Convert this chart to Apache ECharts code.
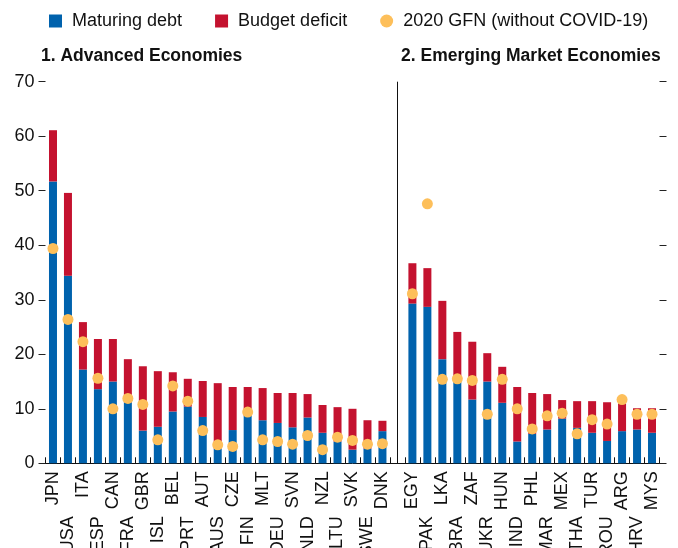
<!DOCTYPE html>
<html>
<head>
<meta charset="utf-8">
<script src="https://cdn.jsdelivr.net/npm/echarts@6/dist/echarts.min.js"></script>
<style>
html,body{margin:0;padding:0;background:#fff;}
#chart{width:678px;height:548px;}
</style>
</head>
<body>
<div id="chart"></div>
<script>
var categories = ['JPN','USA','ITA','ESP','CAN','FRA','GBR','ISL','BEL','PRT','AUT','AUS','CZE','FIN','MLT','DEU','SVN','NLD','NZL','LTU','SVK','SWE','DNK',' ','EGY','PAK','LKA','BRA','ZAF','UKR','HUN','IND','PHL','MAR','MEX','THA','TUR','ROU','ARG','HRV','MYS'];
var maturingDebt = [51.7,34.4,17.2,13.6,15.0,11.2,6.0,6.7,9.5,10.4,8.5,2.7,6.1,8.7,7.9,7.4,6.6,8.4,5.6,4.0,2.5,2.7,5.9,null,29.3,28.7,19.1,14.9,11.7,15.0,11.1,4.0,5.4,6.2,8.2,6.5,5.6,4.1,5.9,6.2,5.6];
var budgetDeficit = [9.4,15.2,8.7,9.2,7.8,7.9,11.8,10.2,7.2,5.1,6.6,12.0,7.9,5.3,5.9,5.5,6.3,4.3,5.1,6.3,7.5,5.2,1.9,null,7.4,7.1,10.7,9.2,10.6,5.2,6.6,10.0,7.5,6.5,3.4,4.9,5.8,7.1,5.1,3.9,4.5];
var gfn2020 = [39.4,26.4,22.3,15.6,10.0,11.9,10.8,4.3,14.2,11.4,6.0,3.4,3.1,9.4,4.3,4.0,3.5,5.1,2.5,4.8,4.2,3.5,3.6,null,31.1,47.6,15.4,15.5,15.2,9.0,15.4,10.0,6.3,8.7,9.2,5.4,8.0,7.2,11.7,9.0,9.0];
var yTicks = [0,10,20,30,40,50,60,70];
var panelTitles = ['1. Advanced Economies','2. Emerging Market Economies'];

var FONT = "'Liberation Sans', Arial, sans-serif";
var BLUE = '#0062AD', RED = '#C4122F', GOLD = '#FDBF5A';

var chart = echarts.init(document.getElementById('chart'), null, {renderer:'canvas'});
var yAxisBase = {
  type:'value', min:yTicks[0], max:yTicks[yTicks.length-1], interval:10,
  axisLine:{show:false},
  axisTick:{show:true, inside:false, length:7, lineStyle:{color:'#222', width:1}},
  splitLine:{show:false}
};
chart.setOption({
  animation:false,
  textStyle:{fontFamily:FONT},
  title:[
    {text:panelTitles[0], left:36, top:42, textStyle:{fontFamily:FONT, fontSize:17.5, fontWeight:'bold', color:'#111'}},
    {text:panelTitles[1], left:396, top:42, textStyle:{fontFamily:FONT, fontSize:17.5, fontWeight:'bold', color:'#111'}}
  ],
  legend:{
    left:44, top:7, itemWidth:13, itemHeight:13, itemGap:33,
    textStyle:{fontFamily:FONT, fontSize:18, color:'#111', padding:[0,0,0,5]},
    data:[
      {name:'Maturing debt', icon:'rect'},
      {name:'Budget deficit', icon:'rect'},
      {name:'2020 GFN (without COVID-19)', icon:'circle'}
    ]
  },
  grid:{left:45.5, right:18.5, top:81.7, bottom:84.7, containLabel:false, outerBoundsMode:'none'},
  xAxis:[
    {type:'category', data:categories, boundaryGap:true,
     axisLine:{show:true, lineStyle:{color:'#111', width:1}},
     axisTick:{show:true, inside:true, length:6, interval:0, lineStyle:{color:'#111'}},
     axisLabel:{rotate:90, margin:8, fontSize:18, color:'#111', fontFamily:FONT, hideOverlap:false,
       interval:function(i){return i%2===0;}}
    },
    {type:'category', data:categories, boundaryGap:true, position:'bottom',
     axisLine:{show:false}, axisTick:{show:false},
     axisLabel:{rotate:90, margin:53, fontSize:18, color:'#111', fontFamily:FONT, hideOverlap:false,
       interval:function(i){return i%2===1;}}
    }
  ],
  yAxis:[
    Object.assign({}, yAxisBase, {position:'left', axisLabel:{fontSize:18, color:'#111', fontFamily:FONT, margin:11}}),
    Object.assign({}, yAxisBase, {position:'right', axisLabel:{show:false}})
  ],
  series:[
    {name:'Maturing debt', type:'bar', stack:'g', data:maturingDebt, barWidth:8, itemStyle:{color:BLUE},
     markLine:{silent:true, symbol:'none', label:{show:false}, lineStyle:{color:'#111', width:1, type:'solid'},
       data:[{xAxis:' '}]}},
    {name:'Budget deficit', type:'bar', stack:'g', data:budgetDeficit, barWidth:8, itemStyle:{color:RED}},
    {name:'2020 GFN (without COVID-19)', type:'scatter', data:gfn2020, symbolSize:11, z:5, itemStyle:{color:GOLD, opacity:1}}
  ]
});
</script>
</body>
</html>
